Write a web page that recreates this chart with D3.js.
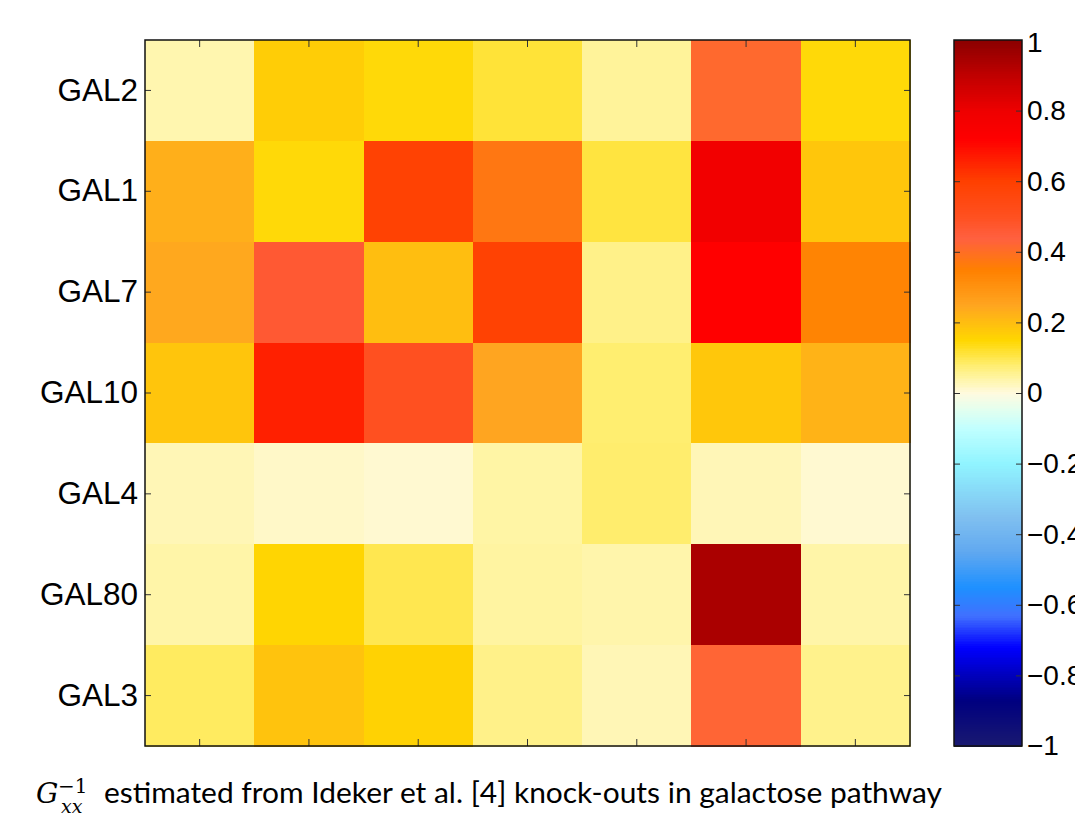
<!DOCTYPE html>
<html>
<head>
<meta charset="utf-8">
<script src="https://cdn.jsdelivr.net/npm/d3@7"></script>
<style>
  body { margin: 0; background: #fff; }
  .tick line { stroke: #333; stroke-width: 1; }
  .tick text { font-family: "Liberation Sans", Arial, sans-serif; fill: #000; }
  .gene-axis .tick text { font-size: 31.5px; }
  .cbar-axis .tick text { font-size: 28px; }
</style>
</head>
<body>
<svg id="chart"></svg>
<script>
// row genes (top to bottom); columns are the knock-outs, unlabelled
const genes = ['GAL2', 'GAL1', 'GAL7', 'GAL10', 'GAL4', 'GAL80', 'GAL3'];
const knockouts = ['k1', 'k2', 'k3', 'k4', 'k5', 'k6', 'k7'];

// estimated values, one row per gene
const rowGAL2  = [0.035, 0.17, 0.145, 0.115, 0.05, 0.415, 0.145];
const rowGAL1  = [0.23, 0.145, 0.59, 0.375, 0.11, 0.78, 0.185];
const rowGAL7  = [0.245, 0.465, 0.20, 0.59, 0.062, 0.72, 0.34];
const rowGAL10 = [0.186, 0.66, 0.50, 0.25, 0.08, 0.183, 0.222];
const rowGAL4  = [0.03, 0.017, 0.011, 0.042, 0.082, 0.029, 0.011];
const rowGAL80 = [0.04, 0.155, 0.10, 0.045, 0.038, 0.942, 0.04];
const rowGAL3  = [0.09, 0.19, 0.16, 0.062, 0.03, 0.425, 0.06];
const values = [rowGAL2, rowGAL1, rowGAL7, rowGAL10, rowGAL4, rowGAL80, rowGAL3];

const colorbarTicks = [-1, -0.8, -0.6, -0.4, -0.2, 0, 0.2, 0.4, 0.6, 0.8, 1];
const captionText = 'estimated from Ideker et al. [4] knock-outs in galactose pathway';

// colormap used in the figure
const cmapStops  = [-1, -0.87, -0.72, -0.63, -0.55, -0.45, -0.35, -0.2, -0.1, -0.05, 0, 0.04, 0.08, 0.15, 0.25, 0.35, 0.44, 0.5, 0.6, 0.72, 0.8, 0.9, 1];
const cmapColors = ['#191970', '#000080', '#0000ff', '#4070ff', '#1e90ff', '#60a8f0', '#80c0f0', '#90f4ff', '#c0ffff', '#e0fff0',
                    '#fffae0', '#fff5a8', '#ffee70', '#ffd700', '#ffa520', '#ff8000', '#ff6040', '#ff5020', '#ff4000', '#ff0000',
                    '#ee0000', '#c00000', '#8b0000'];

const W = 1075, H = 817;
const plot = { left: 145, right: 910, top: 40, bottom: 746 };
const bar = { left: 954, right: 1022 };

const svg = d3.select('#chart').attr('width', W).attr('height', H);

const color = d3.scaleLinear().domain(cmapStops).range(cmapColors).clamp(true);
const xScale = d3.scaleBand().domain(knockouts).range([plot.left, plot.right]);
const yScale = d3.scaleBand().domain(genes).range([plot.top, plot.bottom]);

// heatmap cells
const cells = [];
values.forEach((row, i) => row.forEach((v, j) => cells.push({ gene: genes[i], ko: knockouts[j], v })));
svg.append('g').selectAll('rect').data(cells).join('rect')
  .attr('x', d => xScale(d.ko))
  .attr('y', d => yScale(d.gene))
  .attr('width', xScale.bandwidth() + 0.5)
  .attr('height', yScale.bandwidth() + 0.5)
  .attr('fill', d => color(d.v))
  .attr('shape-rendering', 'crispEdges');

// axes with inward ticks on all four sides
svg.append('g').attr('transform', `translate(0,${plot.top})`)
  .call(d3.axisTop(xScale).tickSize(-7).tickFormat(''))
  .call(g => g.select('.domain').remove());
svg.append('g').attr('transform', `translate(0,${plot.bottom})`)
  .call(d3.axisBottom(xScale).tickSize(-7).tickFormat(''))
  .call(g => g.select('.domain').remove());
svg.append('g').attr('class', 'gene-axis').attr('transform', `translate(${plot.left},0)`)
  .call(d3.axisLeft(yScale).tickSize(-6).tickPadding(7))
  .call(g => g.select('.domain').remove());
svg.append('g').attr('transform', `translate(${plot.right},0)`)
  .call(d3.axisRight(yScale).tickSize(-6).tickFormat(''))
  .call(g => g.select('.domain').remove());

svg.append('rect')
  .attr('x', plot.left).attr('y', plot.top)
  .attr('width', plot.right - plot.left).attr('height', plot.bottom - plot.top)
  .attr('fill', 'none').attr('stroke', '#111').attr('stroke-width', 1.5);

// colorbar
const cScale = d3.scaleLinear().domain([-1, 1]).range([plot.bottom, plot.top]);
const steps = d3.range(-1, 1, 0.005);
svg.append('g').selectAll('rect').data(steps).join('rect')
  .attr('x', bar.left)
  .attr('y', d => cScale(d + 0.005))
  .attr('width', bar.right - bar.left)
  .attr('height', d => cScale(d) - cScale(d + 0.005) + 0.6)
  .attr('fill', d => color(d + 0.0025))
  .attr('shape-rendering', 'crispEdges');

const fmt = d => d === 0 ? '0' : d3.format('~g')(d);
svg.append('g').attr('transform', `translate(${bar.left},0)`)
  .call(d3.axisLeft(cScale).tickValues(colorbarTicks).tickSize(-6).tickFormat(''))
  .call(g => g.select('.domain').remove());
svg.append('g').attr('class', 'cbar-axis').attr('transform', `translate(${bar.right},0)`)
  .call(d3.axisRight(cScale).tickValues(colorbarTicks).tickSize(-6).tickPadding(5).tickFormat(fmt))
  .call(g => g.select('.domain').remove())
  .call(g => g.selectAll('.tick').filter(d => d === 1).select('text').attr('dy', '0.42em'));

svg.append('rect')
  .attr('x', bar.left).attr('y', plot.top)
  .attr('width', bar.right - bar.left).attr('height', plot.bottom - plot.top)
  .attr('fill', 'none').attr('stroke', '#111').attr('stroke-width', 1.5);

// caption: G_xx^-1 estimated from ...
const cap = svg.append('g');
cap.append('text').attr('x', 36).attr('y', 803)
  .style('font-family', '"DejaVu Serif", "Liberation Serif", serif').style('font-style', 'italic')
  .style('font-size', '28px').text('G');
cap.append('text').attr('x', 58).attr('y', 793)
  .style('font-family', '"DejaVu Serif", "Liberation Serif", serif')
  .style('font-size', '20px').text('\u22121');
cap.append('text').attr('x', 61).attr('y', 813)
  .style('font-family', '"DejaVu Serif", "Liberation Serif", serif').style('font-style', 'italic')
  .style('font-size', '19px').text('xx');
cap.append('text').attr('x', 104).attr('y', 803)
  .attr('textLength', 838).attr('lengthAdjust', 'spacingAndGlyphs')
  .style('font-family', 'Lato, "Open Sans", sans-serif')
  .style('font-size', '28px').text(captionText);
</script>
</body>
</html>
